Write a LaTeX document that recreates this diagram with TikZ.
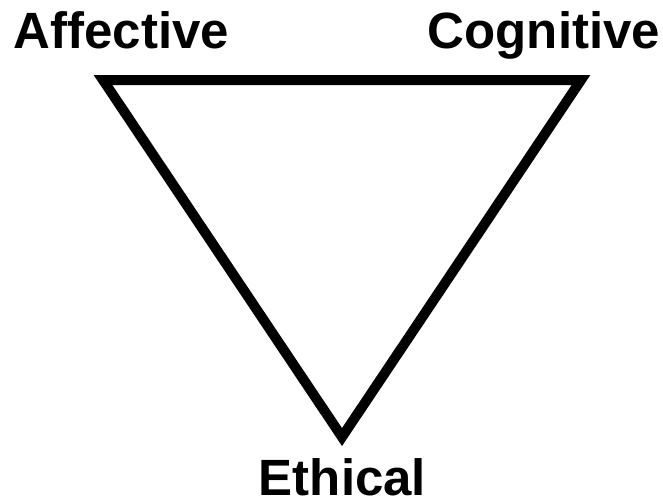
\documentclass[tikz,border=0pt]{standalone}
\usepackage{fontspec}
\setmainfont{Liberation Sans}
\begin{document}
\begin{tikzpicture}[x=1pt,y=-1pt,line width=10pt,line join=miter,
  every node/.style={inner sep=0pt,font=\fontsize{51}{51}\selectfont\bfseries}]
 \useasboundingbox (0,0) rectangle (663,501);
 \coordinate (a) at (103,80);
 \coordinate (c) at (581,80);
 \coordinate (e) at (342,437);
 \node[anchor=base] (aff) at (121.5,48) {Affective};
 \node[anchor=base] (cog) at (544,48) {Cognitive};
 \node[anchor=base] (eth) at (342.5,495) {Ethical};
 \draw (a) -- (c) -- (e) -- cycle;
\end{tikzpicture}
\end{document}
